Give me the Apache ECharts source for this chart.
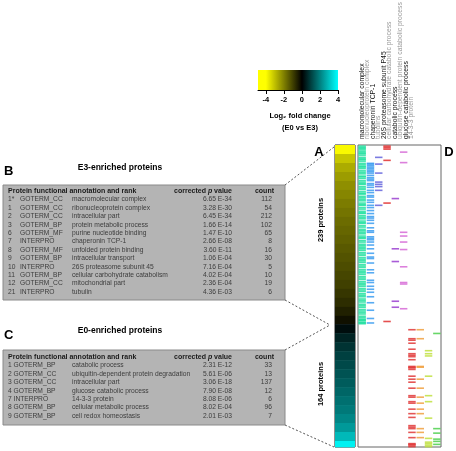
<!DOCTYPE html>
<html><head><meta charset="utf-8">
<script src="https://cdn.jsdelivr.net/npm/echarts@6/dist/echarts.min.js"></script>
<style>html,body{margin:0;padding:0;background:#fff}#c{width:456px;height:451px}</style>
</head><body><div id="c"></div>
<script>
// ---------- data ----------
const colorbarTicks = [-4, -2, 0, 2, 4];
const colorbarExtent = [-4.87, 4];
const colorStopValues = [-4, 0, 4];
const colorStopColors = ['#ffff00', '#000000', '#00ffff'];

const e3BandCounts = [12,12,12,12,12,12,12,12,12,12,12,12,12,12,12,12,12,12,12,11];
const e3BandValues = [-3.9,-3.1,-2.7,-2.45,-2.25,-2.1,-1.95,-1.82,-1.7,-1.6,-1.5,-1.4,-1.3,-1.2,-1.1,-1.0,-0.85,-0.7,-0.5,-0.25];
const e0BandCounts = [12,12,12,12,12,12,12,12,12,12,12,12,12,8];
const e0BandValues = [0.2,0.55,0.8,1.0,1.15,1.3,1.45,1.6,1.75,1.9,2.1,2.4,2.9,3.8];
const totalProteins = 403;

const termLabels = ['macromolecular complex','ribonucleoprotein complex','chaperonin TCP-1','tubulins',
  '26S proteasome subunit P45','cellular carbohydrate catabolic process','catabolic process',
  'ubiquitin-dependent protein catabolic process','glucose catabolic process','14-3-3 protein'];
const termColors = ['#22e0a0','#3a9cf0','#6464dc','#e03030','#9a3fd0','#d66ad6','#e03838','#f0a040','#bfe040','#4ed04e'];

const rowsMacro = [1,3,4,6,8,10,11,13,16,18,19,21,24,26,28,29,31,34,36,38,41,42,44,47,49,51,52,55,57,59,62,64,65,68,70,72,74,77,79,80,83,85,88,90,91,94,96,98,101,103,104,107,109,112,114,116,118,121,123,124,127,129,132,134,136,138,140,143,145,147,150,152,154,156,159,161,163,166,168,170,172,175,177,179,182,184,186,188,191,193,195,198,200,202,205,207,209,212,214,216,219,221,223,225,228,230,232,234,236,237,238,233];
const rowsRibo = [24,25,27,29,31,33,35,37,40,43,45,47,51,53,56,60,63,67,69,73,76,80,83,87,91,95,97,100,104,110,114,116,122,124,126,129,133,138,144,149,151,157,166,170,180,183,188,192,196,202,210,220,231,237];
const rowsChaperonin = [16,25,37,49,52,55,60,80];
const rowsTubulin = [1,3,5,20,77,235];
const rows26S = [71,138,155,208,216];
const rowsCarbo = [9,23,116,121,129,139,162,183,185,218];
const rowsCatabolic = [246,258,260,264,272,278,280,282,286,295,296,297,299,308,312,316,324,334,336,342,344,352,358,363,374,376,378,383,390,398,399,400,402];
const rowsUbiquitin = [246,258,295,296,312,324,336,344,352,358,378,383,390];
const rowsGlucose = [274,278,281,308,334,342,364,391,396,398,400,402];
const rows1433 = [251,378,384,392,395,399];

const bRank = ['1*','1','2','3','6','7','8','9','10','11','12','21'];
const bSource = ['GOTERM_CC','GOTERM_CC','GOTERM_CC','GOTERM_BP','GOTERM_MF','INTERPRO','GOTERM_MF','GOTERM_BP','INTERPRO','GOTERM_BP','GOTERM_CC','INTERPRO'];
const bTerm = ['macromolecular complex','ribonucleoprotein complex','intracellular part','protein metabolic process','purine nucleotide binding','chaperonin TCP-1','unfolded protein binding','intracellular transport','26S proteasome subunit 45','cellular carbohydrate catabolism','mitochondrial part','tubulin'];
const bP = ['6.65 E-34','3.28 E-30','6.45 E-34','1.66 E-14','1.47 E-10','2.66 E-08','3.60 E-11','1.06 E-04','7.16 E-04','4.02 E-04','2.36 E-04','4.36 E-03'];
const bCount = [112,54,212,102,65,8,16,30,5,10,19,6];

const cRank = ['1','2','3','4','7','8','9'];
const cSource = ['GOTERM_BP','GOTERM_CC','GOTERM_CC','GOTERM_BP','INTERPRO','GOTERM_BP','GOTERM_BP'];
const cTerm = ['catabolic process','ubiquitin-dependent protein degradation','intracellular part','glucose catabolic process','14-3-3 protein','cellular metabolic process','cell redox homeostasis'];
const cP = ['2.31 E-12','5.61 E-06','3.06 E-18','7.90 E-08','8.08 E-06','8.02 E-04','2.01 E-03'];
const cCount = [33,13,137,12,6,96,7];

// ---------- build ----------
const FF = '"Liberation Sans", Arial, sans-serif';
const bands = [];
let acc = 0;
e3BandCounts.forEach((n, i) => { bands.push([acc, acc + n, e3BandValues[i]]); acc += n; });
e0BandCounts.forEach((n, i) => { bands.push([acc, acc + n, e0BandValues[i]]); acc += n; });

const termRows = [rowsMacro, rowsRibo, rowsChaperonin, rowsTubulin, rows26S, rowsCarbo, rowsCatabolic, rowsUbiquitin, rowsGlucose, rows1433];
const marks = [];
termRows.forEach((rows, ci) => rows.forEach(r => marks.push([ci, r])));

const graphics = [];
function txt(x, y, text, font, fill, align, extra) {
  graphics.push(Object.assign({ type: 'text', x: x, y: y, silent: true,
    style: { text: text, font: font, fill: fill || '#000', textAlign: align || 'left', textVerticalAlign: 'middle' } }, extra || {}));
}
// panel letters & titles
txt(4, 171, 'B', 'bold 13px ' + FF);
txt(120, 168, 'E3-enriched proteins', 'bold 8.5px ' + FF, '#000', 'center');
txt(4, 335, 'C', 'bold 13px ' + FF);
txt(120, 331, 'E0-enriched proteins', 'bold 8.5px ' + FF, '#000', 'center');
txt(319, 152, 'A', 'bold 13px ' + FF, '#000', 'center');
txt(449, 152, 'D', 'bold 13px ' + FF, '#000', 'center');

// table boxes
function tableBox(y0, y1) {
  graphics.push({ type: 'rect', silent: true, z: -1, shape: { x: 3, y: y0, width: 282, height: y1 - y0 },
    style: { fill: '#b4b4b4', stroke: '#8a8a8a', lineWidth: 1 } });
}
tableBox(185, 300);
tableBox(350, 425);
function header(y) {
  txt(8, y, 'Protein functional annotation and rank', 'bold 7px ' + FF, '#1a1a1a');
  graphics.push({ type: 'text', x: 232, y: y, silent: true, style: {
    text: 'corrected {i|p} value', font: 'bold 7px ' + FF, fill: '#1a1a1a', textAlign: 'right', textVerticalAlign: 'middle',
    rich: { i: { font: 'bold italic 7px ' + FF, fill: '#1a1a1a' } } } });
  txt(274, y, 'count', 'bold 7px ' + FF, '#1a1a1a', 'right');
}
header(191.5);
header(357);
const rowFont = '6.7px ' + FF, rowCol = '#3c3c3c';
bRank.forEach((r, i) => {
  const y = 199.5 + i * 8.4;
  txt(8, y, r, rowFont, rowCol);
  txt(20, y, bSource[i], rowFont, rowCol);
  txt(72, y, bTerm[i], rowFont, rowCol);
  txt(232, y, bP[i], rowFont, rowCol, 'right');
  txt(272, y, String(bCount[i]), rowFont, rowCol, 'right');
});
cRank.forEach((r, i) => {
  const y = 365.5 + i * 8.4;
  txt(8, y, r + ' ' + cSource[i], rowFont, rowCol);
  txt(72, y, cTerm[i], rowFont, rowCol);
  txt(232, y, cP[i], rowFont, rowCol, 'right');
  txt(272, y, String(cCount[i]), rowFont, rowCol, 'right');
});

// dashed connectors
function dash(a, b) {
  graphics.push({ type: 'line', silent: true, shape: { x1: a[0], y1: a[1], x2: b[0], y2: b[1] },
    style: { stroke: '#555', lineWidth: 1, lineDash: [2, 2] } });
}
dash([285, 185], [334, 147]);
dash([285, 300], [330, 325]);
dash([285, 350], [330, 325]);
dash([285, 425], [334, 447]);

// protein counts
txt(321, 220, '239 proteins', 'bold 7.5px ' + FF, '#000', 'center', { rotation: Math.PI / 2 });
txt(321, 384, '164 proteins', 'bold 7.5px ' + FF, '#000', 'center', { rotation: Math.PI / 2 });

// colorbar title
txt(300, 116, 'Log₂ fold change', 'bold 7.5px ' + FF, '#000', 'center');
txt(300, 128, '(E0 vs E3)', 'bold 7.5px ' + FF, '#000', 'center');

// D column labels
termLabels.forEach((t, i) => {
  txt(362 + i * 5.5, 139, t, '6.8px ' + FF, i % 2 === 0 ? '#111' : '#9a9a9a', 'left', { rotation: Math.PI / 2 });
});

const chart = echarts.init(document.getElementById('c'), null, { renderer: 'canvas' });
const span = colorbarExtent[1] - colorbarExtent[0];
const cbStops = [{ offset: 0, color: colorStopColors[0] }].concat(colorStopValues.map((v, i) => ({
  offset: (v - colorbarExtent[0]) / span, color: colorStopColors[i] })));

chart.setOption({
  animation: false,
  backgroundColor: '#fff',
  grid: [
    { left: 258, top: 70, width: 80, height: 20 },
    { left: 335, top: 145, width: 20, height: 302, show: true, borderColor: '#222', borderWidth: 1, backgroundColor: 'transparent' },
    { left: 358, top: 145, width: 83, height: 302, show: true, borderColor: '#666', borderWidth: 1, backgroundColor: 'transparent' }
  ],
  xAxis: [
    { gridIndex: 0, type: 'value', min: colorbarExtent[0], max: colorbarExtent[1],
      axisLine: { show: true, lineStyle: { color: '#000', width: 1 } },
      axisTick: { show: true, customValues: colorbarTicks, length: 4, lineStyle: { color: '#000' } },
      axisLabel: { customValues: colorbarTicks, fontWeight: 'bold', fontSize: 7.5, fontFamily: FF, color: '#000', margin: 6 },
      splitLine: { show: false } },
    { gridIndex: 1, type: 'value', min: 0, max: 1, show: false },
    { gridIndex: 2, type: 'category', data: termLabels, show: false }
  ],
  yAxis: [
    { gridIndex: 0, type: 'value', min: 0, max: 1, show: false },
    { gridIndex: 1, type: 'value', min: 0, max: totalProteins, inverse: true, show: false },
    { gridIndex: 2, type: 'value', min: 0, max: totalProteins, inverse: true, show: false }
  ],
  visualMap: {
    show: false, type: 'continuous', min: colorStopValues[0], max: colorStopValues[2], dimension: 2, seriesIndex: 1,
    inRange: { color: colorStopColors }
  },
  series: [
    { type: 'custom', xAxisIndex: 0, yAxisIndex: 0, data: [colorbarExtent],
      renderItem: function (params, api) {
        const p0 = api.coord([api.value(0), 1]);
        const p1 = api.coord([api.value(1), 0]);
        return { type: 'rect', shape: { x: p0[0], y: p0[1], width: p1[0] - p0[0], height: p1[1] - p0[1] },
          style: { fill: new echarts.graphic.LinearGradient(0, 0, 1, 0, cbStops) } };
      } },
    { type: 'custom', xAxisIndex: 1, yAxisIndex: 1, data: bands, encode: { x: -1, y: [0, 1] },
      renderItem: function (params, api) {
        const p0 = api.coord([0, api.value(0)]);
        const p1 = api.coord([1, api.value(1)]);
        return { type: 'rect', shape: { x: p0[0], y: p0[1], width: p1[0] - p0[0], height: p1[1] - p0[1] + 0.3 },
          style: { fill: api.visual('color') } };
      } },
    { type: 'custom', xAxisIndex: 2, yAxisIndex: 2, data: marks, z: 3,
      renderItem: function (params, api) {
        const ci = api.value(0);
        const c = api.coord([ci, api.value(1) + 0.5]);
        const bw = api.size([1, 0])[0];
        return { type: 'rect', shape: { x: c[0] - bw * 0.45, y: c[1] - 0.8, width: bw * 0.9, height: 1.6 },
          style: { fill: termColors[ci], opacity: 0.85 } };
      } }
  ],
  graphic: graphics
});
</script>
</body></html>
